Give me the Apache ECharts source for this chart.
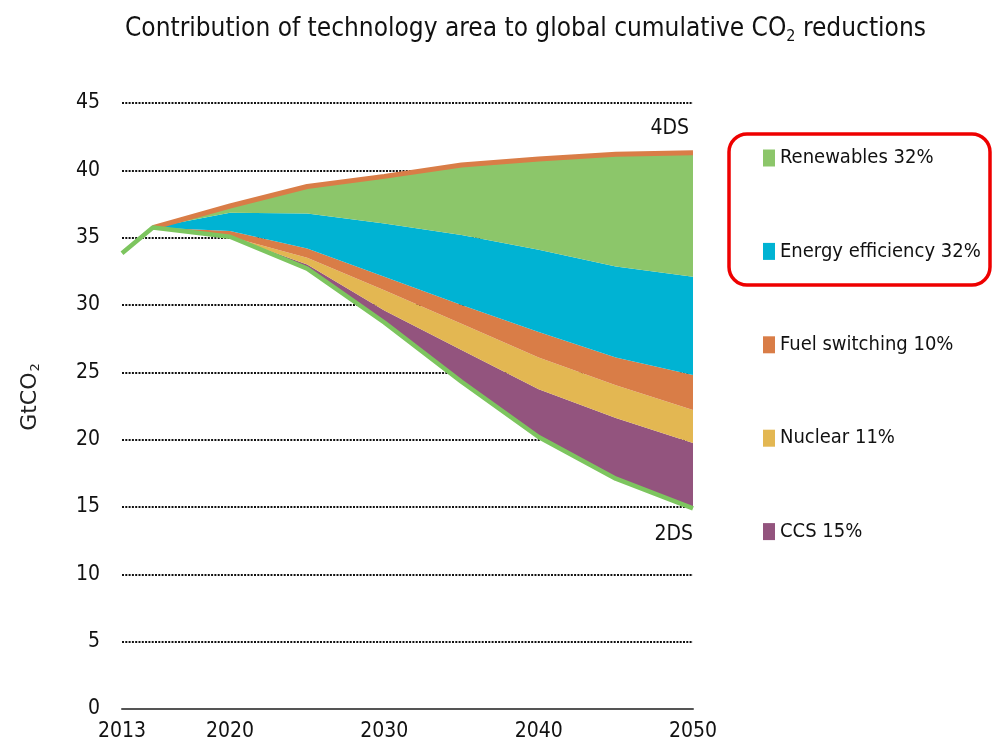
<!DOCTYPE html>
<html>
<head>
<meta charset="utf-8">
<script src="https://cdn.jsdelivr.net/npm/echarts@6/dist/echarts.min.js"></script>
<style>
  html, body {margin: 0; padding: 0; background: #fff;}
  #chart {width: 998px; height: 755px;}
</style>
</head>
<body>
<div id="chart"></div>
<script>
// years on the x axis, values in GtCO2
const years = [2013, 2015, 2020, 2025, 2030, 2035, 2040, 2045, 2050];
const xTickLabels = [2013, 2020, 2030, 2040, 2050];
const scenario2DS = [33.85, 35.75, 35.07, 32.7, 28.7, 24.3, 20.2, 17.1, 14.9];
const scenario4DS = [null, 35.75, 37.35, 38.8, 39.55, 40.4, 40.85, 41.2, 41.3];
// reductions per technology (thickness of each band)
const ccs = [0, 0, 0, 0.3, 0.9, 2.35, 3.55, 4.5, 4.85];
const nuclear = [0, 0, 0, 0.5, 1.5, 1.95, 2.35, 2.45, 2.45];
const fuelSwitching = [0, 0, 0.43, 0.7, 1.0, 1.4, 1.9, 2.05, 2.6];
const efficiency = [0, 0, 1.35, 2.6, 3.95, 5.2, 6.1, 6.75, 7.3];
const renewables = [0, 0, 0.5, 2.0, 3.5, 5.2, 6.75, 8.35, 9.2];

const FONT = '"DejaVu Sans Condensed", "Open Sans", sans-serif';

// value first, year second: echarts stacks the first numeric dimension
const pairs = arr => arr.map((v, i) => [v, years[i]]);
const ENCODE = {x: 1, y: 0};

const band = (name, data, color) => ({
    name,
    type: 'line',
    stack: 'total',
    symbol: 'none',
    encode: ENCODE,
    lineStyle: {width: 0},
    areaStyle: {color, opacity: 1},
    itemStyle: {color},
    data: pairs(data)
});

const chart = echarts.init(document.getElementById('chart'));

chart.setOption({
    animation: false,
    title: {
        text: '{t|Contribution of technology area to global cumulative CO}{sub|2}{t| reductions}',
        left: 120,
        top: 9,
        textStyle: {
            rich: {
                t: {fontFamily: FONT, fontSize: 26, fontWeight: 'normal', color: '#111'},
                sub: {fontFamily: FONT, fontSize: 16, fontWeight: 'normal', color: '#111', padding: [15, 0, 0, 0]}
            }
        }
    },
    grid: {left: 122, right: 305, top: 103, bottom: 46},
    legend: {
        orient: 'vertical',
        left: 758,
        top: 143,
        icon: 'rect',
        itemWidth: 12,
        itemHeight: 17,
        itemGap: 73.4,
        selectedMode: false,
        textStyle: {fontFamily: FONT, fontSize: 20, color: '#111'},
        data: ['Renewables 32%', 'Energy efficiency 32%', 'Fuel switching 10%', 'Nuclear 11%', 'CCS 15%']
    },
    graphic: [{
        type: 'rect',
        shape: {x: 729, y: 134, width: 261, height: 151, r: 18},
        style: {fill: 'none', stroke: '#ee0000', lineWidth: 3.5}
    }],
    xAxis: {
        type: 'value',
        min: 2013,
        max: 2050,
        axisLine: {lineStyle: {color: '#555', width: 2}},
        axisTick: {show: false},
        splitLine: {show: false},
        axisLabel: {
            customValues: xTickLabels,
            fontFamily: FONT,
            fontSize: 21,
            color: '#111',
            margin: 12,
            formatter: v => String(v)
        }
    },
    yAxis: {
        type: 'value',
        min: 0,
        max: 45,
        interval: 5,
        name: '{n|GtCO}{sub|2}',
        nameLocation: 'middle',
        nameGap: 80,
        nameTextStyle: {
            padding: [0, 0, 0, 18],
            rich: {
                n: {fontFamily: 'DejaVu Sans', fontSize: 22, color: '#222'},
                sub: {fontFamily: 'DejaVu Sans', fontSize: 13, color: '#222', padding: [10, 0, 0, 1]}
            }
        },
        axisLine: {show: false},
        axisTick: {show: false},
        axisLabel: {fontFamily: FONT, fontSize: 21, color: '#111', margin: 22},
        splitLine: {lineStyle: {color: '#111', type: [2, 1.3], width: 2}}
    },
    series: [
        {
            name: 'base',
            type: 'line',
            stack: 'total',
            symbol: 'none',
            encode: ENCODE,
            lineStyle: {width: 0},
            data: pairs(scenario2DS)
        },
        band('CCS 15%', ccs, '#93547e'),
        band('Nuclear 11%', nuclear, '#e3b752'),
        band('Fuel switching 10%', fuelSwitching, '#d97d47'),
        band('Energy efficiency 32%', efficiency, '#00b3d3'),
        band('Renewables 32%', renewables, '#8cc66a'),
        {
            name: '4DS',
            type: 'line',
            symbol: 'none',
            encode: ENCODE,
            z: 5,
            lineStyle: {color: '#d97d47', width: 5},
            endLabel: {
                show: true,
                formatter: '4DS',
                distance: 0,
                align: 'right',
                verticalAlign: 'bottom',
                padding: [0, 4, 14, 0],
                fontFamily: FONT,
                fontSize: 21,
                color: '#111'
            },
            data: pairs(scenario4DS)
        },
        {
            name: '2DS',
            type: 'line',
            symbol: 'none',
            encode: ENCODE,
            z: 6,
            lineStyle: {color: '#7dc55f', width: 4.5},
            endLabel: {
                show: true,
                formatter: '2DS',
                distance: 0,
                align: 'right',
                verticalAlign: 'top',
                padding: [16, 0, 0, 0],
                fontFamily: FONT,
                fontSize: 21,
                color: '#111'
            },
            data: pairs(scenario2DS)
        }
    ]
});
</script>
</body>
</html>
